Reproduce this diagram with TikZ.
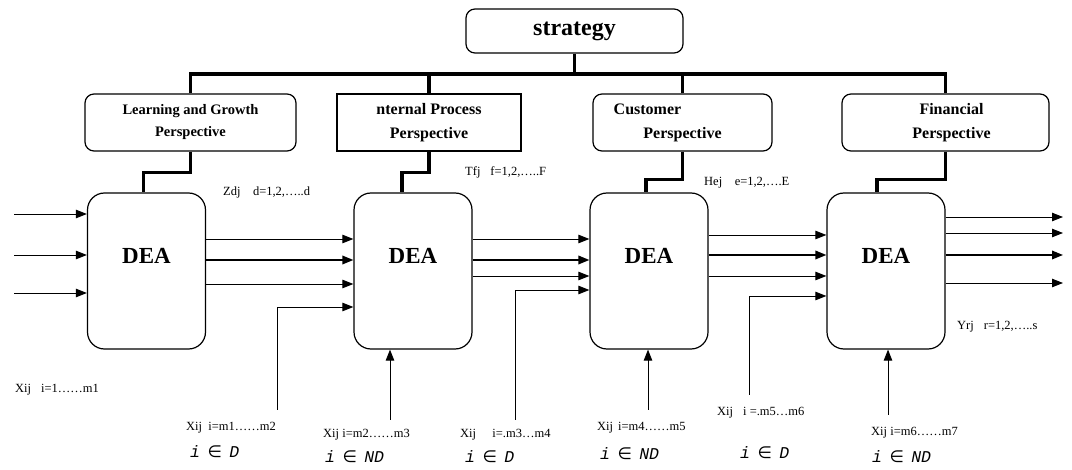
\documentclass[tikz,border=0pt]{standalone}
\usepackage{fontspec}
\setmainfont{Liberation Serif}
\newfontfamily\monofont{Liberation Mono}
\newfontfamily\symbfont{DejaVu Sans}
\usetikzlibrary{arrows.meta,positioning}

% set membership label, i in D / ND
\newcommand{\memb}[1]{{\monofont\itshape i}\hspace{0.45em}{\symbfont ∈}\hspace{0.45em}{\monofont\itshape #1}}

\begin{document}
\begin{tikzpicture}[x=1pt, y=-1pt, >={Triangle[length=11pt,width=8.5pt]},
    rbox/.style={draw, line width=1.2pt, rounded corners=9pt, align=center, inner sep=0pt},
    deabox/.style={draw, line width=1.2pt, rounded corners=17pt, minimum width=118pt, minimum height=156pt},
    deatext/.style={font=\bfseries\fontsize{23}{26}\selectfont, inner sep=0pt},
    bus/.style={line width=3.5pt},
    flow/.style={->, line width=0.9pt},
    flowthick/.style={->, line width=1.8pt},
    lbl/.style={anchor=west, inner sep=0pt, font=\fontsize{12.5}{14}\selectfont},
    setlbl/.style={anchor=west, inner sep=0pt, font=\fontsize{16.5}{18}\selectfont}]
    \useasboundingbox (0,0) rectangle (1072,470);

    % top of the tree
    \node[rbox, minimum width=217pt, minimum height=44pt,
          font=\bfseries\fontsize{24}{26}\selectfont] (strat) at (574.5,31) {strategy};

    \node[rbox, minimum width=211pt, minimum height=57pt,
          font=\bfseries\fontsize{14.5}{22}\selectfont] (learn) at (190.5,122.5)
          {Learning and Growth\\Perspective};
    \node[rbox, sharp corners, minimum width=184pt, minimum height=57pt,
          font=\bfseries\fontsize{16}{24}\selectfont] (intern) at (429,122.5)
          {nternal Process\\Perspective};
    \node[rbox, minimum width=179pt, minimum height=57pt,
          font=\bfseries\fontsize{16}{24}\selectfont] (cust) at (682.5,122.5)
          {Customer\hspace*{70pt}\\Perspective};
    \node[rbox, minimum width=207pt, minimum height=57pt,
          font=\bfseries\fontsize{16}{24}\selectfont] (fin) at (945.5,122.5)
          {\hspace*{12pt}Financial\\\hspace*{12pt}Perspective};

    \coordinate (bus) at (574.5,74);
    \draw[bus] (strat) -- (bus);
    \draw[bus] (learn) |- (bus) -| (fin);
    \draw[bus] (intern) -- (intern |- bus);
    \draw[bus] (cust) -- (cust |- bus);

    % DEA stages
    \node[deabox, label={[deatext, yshift=15pt]center:DEA}] (dea1) at (146.5,271) {};
    \node[deabox, label={[deatext, yshift=15pt]center:DEA}] (dea2) at (413,271) {};
    \node[deabox, label={[deatext, yshift=15pt]center:DEA}] (dea3) at (649,271) {};
    \node[deabox, label={[deatext, yshift=15pt]center:DEA}] (dea4) at (886,271) {};

    \draw[bus] (learn.south) -- ++(0,21) -| ([xshift=-3pt]dea1.north);
    \draw[bus] (intern.south) -- ++(0,21) -| ([xshift=-11pt]dea2.north);
    \draw[bus] (cust.south) -- ++(0,28) -| ([xshift=-3pt]dea3.north);
    \draw[bus] (fin.south) -- ++(0,28) -| ([xshift=-9pt]dea4.north);

    % inputs of the first stage
    \foreach \y [count=\i] in {214,255,293} {
        \coordinate (in\i) at (14,\y);
        \draw[flow] (in\i) -- (in\i -| dea1.west);
    }

    % links between stages
    \foreach \y/\s in {239/flow, 260/flowthick, 284/flow} {
        \draw[\s] (dea1.east |- 0,\y) -- (dea2.west |- 0,\y);
    }
    \foreach \y/\s in {239/flow, 260/flowthick, 276/flow} {
        \draw[\s] (dea2.east |- 0,\y) -- (dea3.west |- 0,\y);
    }
    \foreach \y/\s in {235/flow, 255/flowthick, 276/flow} {
        \draw[\s] (dea3.east |- 0,\y) -- (dea4.west |- 0,\y);
    }

    % extra inputs from below
    \coordinate (f2) at (277,410);
    \coordinate (f3) at (515,420);
    \coordinate (f4) at (749,395);
    \draw[flow] (f2) |- (dea2.west |- 0,307);
    \draw[flow] (f3) |- (dea3.west |- 0,290);
    \draw[flow] (f4) |- (dea4.west |- 0,296);

    \coordinate (b2) at (390,420);
    \coordinate (b3) at (648,410);
    \coordinate (b4) at (888,415);
    \foreach \k in {2,3,4} {
        \draw[flow] (b\k) -- (b\k |- dea\k.south);
    }

    % final outputs
    \foreach \y/\s in {217/flow, 233/flow, 255/flowthick, 283/flow} {
        \coordinate (out) at (1063,\y);
        \draw[\s] (dea4.east |- out) -- (out);
    }

    % labels
    \node[lbl] (zdj) at (223,192) {Zdj\hspace{1em}d=1,2,…..d};
    \node[lbl] (tfj) at (465,172) {Tfj\hspace{0.8em}f=1,2,…..F};
    \node[lbl] (hej) at (704,183) {Hej\hspace{1em}e=1,2,….E};
    \node[lbl] (xa) at (15,390) {Xij\hspace{0.8em}i=1……m1};
    \node[lbl] (xb) at (186,428) {Xij\hspace{0.5em}i=m1……m2};
    \node[lbl] (xc) at (323,435) {Xij i=m2……m3};
    \node[lbl] (xd) at (460,435) {Xij\hspace{1.3em}i=.m3…m4};
    \node[lbl] (xe) at (597,428) {Xij\hspace{0.4em}i=m4……m5};
    \node[lbl] (xf) at (717,413) {Xij\hspace{0.8em}i =.m5…m6};
    \node[lbl] (xg) at (871,433) {Xij i=m6……m7};
    \node[lbl] (yrj) at (957,327) {Yrj\hspace{0.8em}r=1,2,…..s};

    \node[setlbl] (sb) at (190,452) {\memb{D}};
    \node[setlbl] (sc) at (325,457) {\memb{ND}};
    \node[setlbl] (sd) at (465,457) {\memb{D}};
    \node[setlbl] (se) at (600,454) {\memb{ND}};
    \node[setlbl] (sf) at (740,453) {\memb{D}};
    \node[setlbl] (sg) at (872,457) {\memb{ND}};
\end{tikzpicture}
\end{document}
